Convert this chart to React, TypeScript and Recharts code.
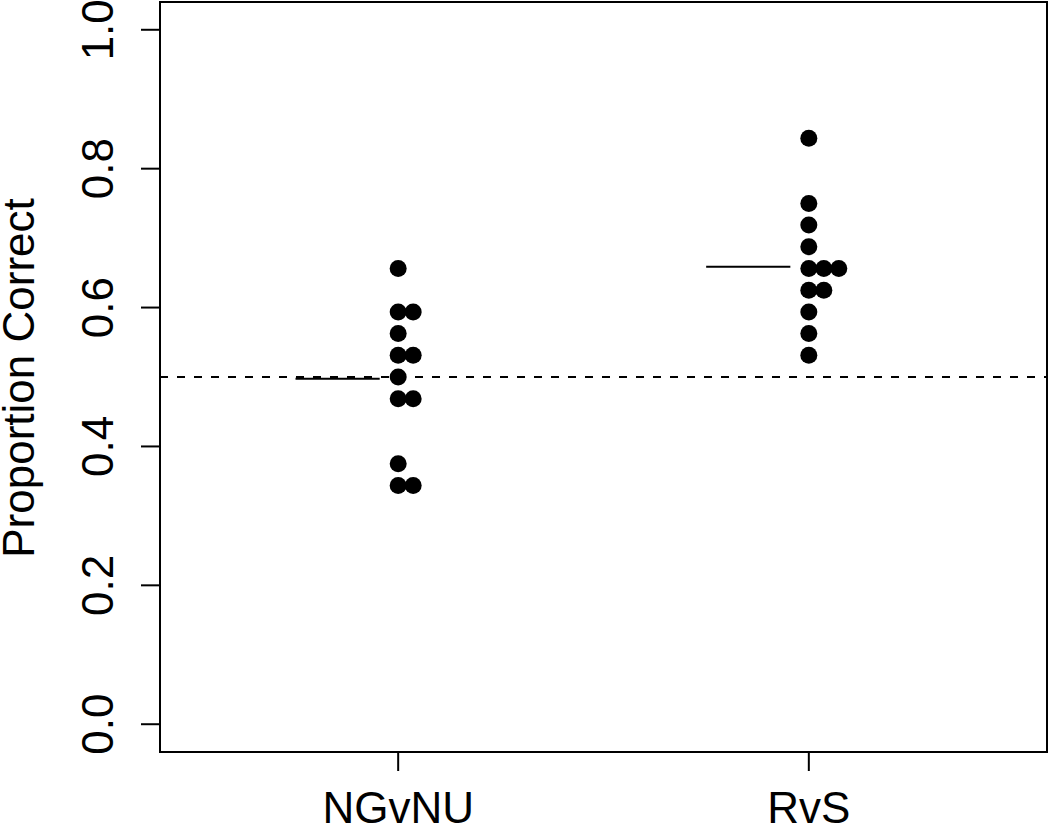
import React from "react";
import { ScatterChart, Scatter, XAxis, YAxis, ReferenceLine, ReferenceArea, Label } from "recharts";

const categories = ["NGvNU", "RvS"];
const ngvnuValues = [0.65625, 0.59375, 0.59375, 0.5625, 0.53125, 0.53125, 0.5, 0.46875, 0.46875, 0.375, 0.34375, 0.34375];
const rvsValues = [0.84375, 0.75, 0.71875, 0.6875, 0.65625, 0.65625, 0.65625, 0.625, 0.625, 0.59375, 0.5625, 0.53125];
const yTicks = [0, 0.2, 0.4, 0.6, 0.8, 1.0];
const chanceLevel = 0.5;

const FONT = "'Liberation Sans', Arial, Helvetica, sans-serif";
const STACK_STEP = 0.0365;

// stack tied values side by side, like stripchart(method = "stack")
const stackPoints = (values: number[], pos: number) => {
  const seen: Record<string, number> = {};
  return values.map((v) => {
    const k = seen[v] ?? 0;
    seen[v] = k + 1;
    return { x: pos + k * STACK_STEP, y: v };
  });
};

const mean = (arr: number[]) => arr.reduce((a, b) => a + b, 0) / arr.length;

const groups = [ngvnuValues, rvsValues];

const Dot = (props: any) => <circle cx={props.cx} cy={props.cy} r={8.5} fill="#000" />;

const YTick = (props: any) => {
  const { x, y, payload } = props;
  return (
    <text
      x={x}
      y={y}
      transform={`rotate(-90 ${x} ${y})`}
      textAnchor="middle"
      fontSize={44}
      fontFamily={FONT}
      fill="#000"
    >
      {Number(payload.value).toFixed(1)}
    </text>
  );
};

export default function App() {
  return (
    <div style={{ position: "absolute", left: 0, top: 0, background: "#fff" }}>
      <ScatterChart width={1050} height={826} margin={{ top: 2, right: 3, left: 0, bottom: 0 }}>
        <XAxis
          type="number"
          dataKey="x"
          domain={[0.42, 2.58]}
          ticks={[1, 2]}
          tickFormatter={(v: number) => categories[v - 1]}
          height={74}
          axisLine={false}
          tickLine={{ stroke: "#000", strokeWidth: 2 }}
          tickSize={19}
          tickMargin={21}
          tick={{ fontSize: 44, fill: "#000", fontFamily: FONT }}
        />
        <YAxis
          type="number"
          dataKey="y"
          domain={[-0.04, 1.04]}
          ticks={yTicks}
          width={160}
          axisLine={false}
          tickLine={{ stroke: "#000", strokeWidth: 2 }}
          tickSize={19}
          tickMargin={28}
          tick={<YTick />}
        >
          <Label
            content={() => (
              <text
                x={34}
                y={378}
                transform="rotate(-90 34 378)"
                textAnchor="middle"
                fontSize={44}
                fontFamily={FONT}
                fill="#000"
              >
                Proportion Correct
              </text>
            )}
          />
        </YAxis>
        <ReferenceArea x1={0.42} x2={2.58} y1={-0.04} y2={1.04} fill="none" stroke="#000" strokeWidth={2} fillOpacity={0} />
        <ReferenceLine y={chanceLevel} stroke="#000" strokeWidth={2} strokeDasharray="8 9" />
        {groups.map((vals, i) => (
          <ReferenceLine
            key={`m${i}`}
            segment={[
              { x: i + 1 - 0.25, y: mean(vals) },
              { x: i + 1 - 0.045, y: mean(vals) },
            ]}
            stroke="#000"
            strokeWidth={2}
          />
        ))}
        {groups.map((vals, i) => (
          <Scatter
            key={categories[i]}
            name={categories[i]}
            data={stackPoints(vals, i + 1)}
            shape={<Dot />}
            isAnimationActive={false}
          />
        ))}
      </ScatterChart>
    </div>
  );
}
